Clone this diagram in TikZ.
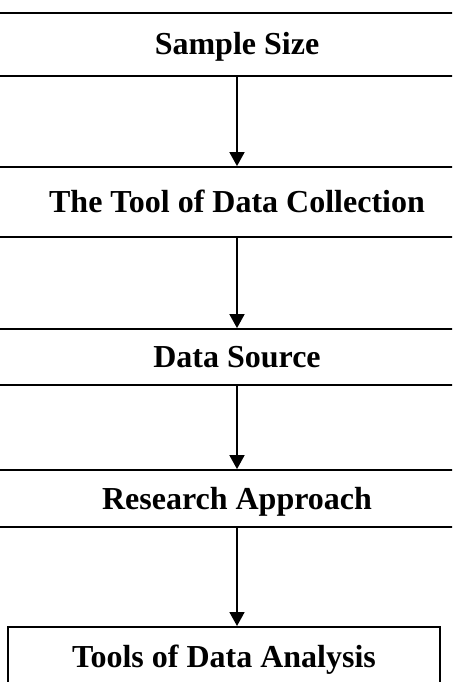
\documentclass[tikz,border=0pt]{standalone}
\usepackage{fontspec}
\setmainfont{Liberation Serif}
\usetikzlibrary{arrows.meta, positioning}

\begin{document}
\begin{tikzpicture}[x=1pt, y=-1pt,
   -{Triangle[width=15pt,length=14pt]}, line width=1.8pt,
   box/.style = {draw, rectangle, minimum width=480pt, inner xsep=0pt, inner ysep=0pt,
     font=\fontsize{32}{38}\selectfont\bfseries, text height=24pt, text depth=3pt}]
   \useasboundingbox (0,0) rectangle (452,682);
   \clip (0,0) rectangle (452,682);
   \node[box, minimum height=63pt] (size)   at (237,44.5)  {Sample Size};
   \node[box, minimum height=70pt] (tool)   at (237,202)   {The Tool of Data Collection};
   \node[box, minimum height=56pt] (source) at (237,357)   {Data Source};
   \node[box, minimum height=57pt] (approach) at (237,498.5) {Research Approach};
   \node[box, anchor=north, minimum width=432pt, inner ysep=17pt]
        (analysis) at (224,626) {Tools of Data Analysis};
   \draw (size) -- (tool);
   \draw (tool) -- (source);
   \draw (source) -- (approach);
   \draw (approach.south) -- (approach.south |- analysis.north);
\end{tikzpicture}
\end{document}
